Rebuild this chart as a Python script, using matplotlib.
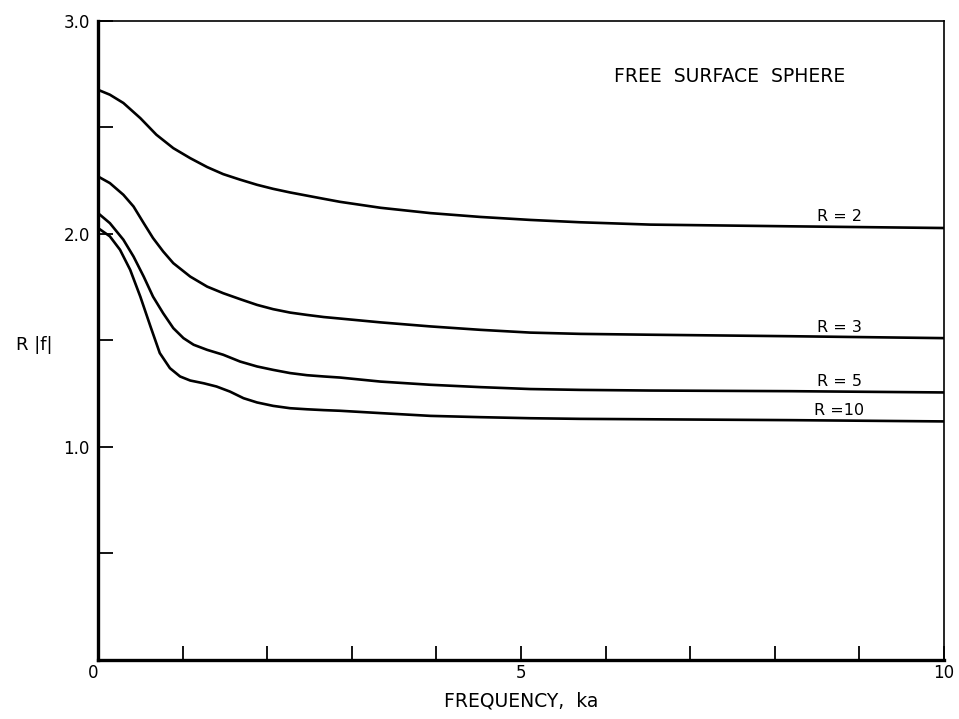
import matplotlib
matplotlib.use("Agg")
import matplotlib.pyplot as plt

# curve samples, R|f| against ka
ka_r2 = [0.0, 0.14, 0.30, 0.50, 0.69, 0.89, 1.09, 1.29, 1.48, 1.68, 1.88, 2.07, 2.27,
         2.47, 2.67, 2.86, 3.34, 3.93, 4.52, 5.11, 5.70, 6.53, 8.19, 10.0]
rf_r2 = [2.677, 2.654, 2.615, 2.544, 2.466, 2.403, 2.356, 2.314, 2.281, 2.255, 2.231,
         2.212, 2.195, 2.180, 2.165, 2.151, 2.123, 2.098, 2.080, 2.066, 2.055, 2.044,
         2.036, 2.028]

ka_r3 = [0.0, 0.14, 0.30, 0.42, 0.54, 0.65, 0.77, 0.89, 1.09, 1.29, 1.48, 1.68, 1.88,
         2.07, 2.27, 2.47, 2.67, 2.86, 3.34, 3.93, 4.52, 5.11, 5.70, 6.53, 8.19, 10.0]
rf_r3 = [2.270, 2.239, 2.184, 2.129, 2.051, 1.981, 1.918, 1.863, 1.800, 1.753, 1.722,
         1.694, 1.667, 1.647, 1.631, 1.620, 1.610, 1.603, 1.585, 1.566, 1.550, 1.537,
         1.531, 1.527, 1.520, 1.511]

ka_r5 = [0.0, 0.14, 0.30, 0.42, 0.54, 0.65, 0.77, 0.89, 1.01, 1.13, 1.29, 1.48, 1.68,
         1.88, 2.07, 2.27, 2.47, 2.67, 2.86, 3.34, 3.93, 4.52, 5.11, 5.70, 6.53, 8.19, 10.0]
rf_r5 = [2.098, 2.051, 1.973, 1.894, 1.800, 1.706, 1.628, 1.558, 1.511, 1.480, 1.456,
         1.433, 1.401, 1.378, 1.362, 1.347, 1.337, 1.331, 1.326, 1.307, 1.292, 1.281,
         1.272, 1.268, 1.265, 1.262, 1.256]

ka_r10 = [0.0, 0.14, 0.26, 0.38, 0.50, 0.62, 0.73, 0.85, 0.97, 1.09, 1.25, 1.40, 1.56,
          1.72, 1.88, 2.07, 2.27, 2.47, 2.67, 2.86, 3.34, 3.93, 4.52, 5.11, 5.70, 6.53,
          8.19, 10.0]
rf_r10 = [2.028, 1.989, 1.926, 1.832, 1.706, 1.566, 1.441, 1.370, 1.331, 1.312, 1.299,
          1.284, 1.260, 1.229, 1.209, 1.193, 1.182, 1.177, 1.173, 1.170, 1.159, 1.146,
          1.140, 1.135, 1.132, 1.130, 1.126, 1.120]

curves = [(ka_r2, rf_r2, "R = 2", 2.045),
          (ka_r3, rf_r3, "R = 3", 1.527),
          (ka_r5, rf_r5, "R = 5", 1.272),
          (ka_r10, rf_r10, "R =10", 1.136)]

x_ticks = list(range(0, 11))
x_labels = ["0", "", "", "", "", "5", "", "", "", "", "10"]
y_ticks = [0.5, 1.0, 1.5, 2.0, 2.5, 3.0]
y_labels = ["", "1.0", "", "2.0", "", "3.0"]

fig = plt.figure(figsize=(9.59, 7.19), dpi=100)
ax = fig.add_axes([0.1022, 0.0821, 0.8822, 0.8887])

for ka, rf, lab, ly in curves:
    ax.plot(ka, rf, color="black", lw=1.9, solid_joinstyle="round",
            solid_capstyle="round")
    ax.text(8.76, ly, lab, ha="center", va="bottom", fontsize=11.5)

ax.text(7.46, 2.74, "FREE  SURFACE  SPHERE", ha="center", va="center", fontsize=13.5)

ax.set_xlim(0, 10)
ax.set_ylim(0, 3.0)
ax.set_xticks(x_ticks)
ax.set_xticklabels(x_labels, fontsize=12)
ax.set_yticks(y_ticks)
ax.set_yticklabels(y_labels, fontsize=12)
ax.get_xticklabels()[0].set_horizontalalignment("right")
ax.tick_params(axis="x", direction="in", length=10, width=1.3, pad=3)
ax.tick_params(axis="y", direction="in", length=11, width=1.3, pad=6)

ax.spines["left"].set_linewidth(2.4)
ax.spines["bottom"].set_linewidth(2.4)
ax.spines["top"].set_linewidth(1.2)
ax.spines["right"].set_linewidth(1.2)

ax.set_xlabel("FREQUENCY,  ka", fontsize=13.5, labelpad=7)
fig.text(34 / 959, 1 - 345 / 719, "R |f|", ha="center", va="center", fontsize=13)

fig.savefig("out.png", dpi=100)
